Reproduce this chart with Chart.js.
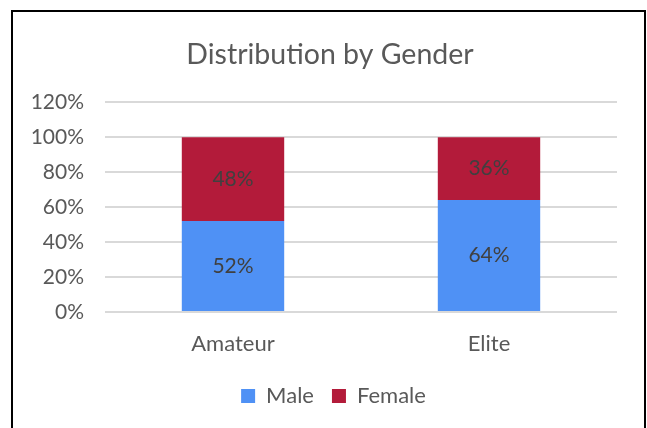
<!DOCTYPE html>
<html>
<head>
<meta charset="utf-8">
<script src="https://cdn.jsdelivr.net/npm/chart.js@4.4.0/dist/chart.umd.min.js"></script>
<style>
  html, body { margin: 0; padding: 0; background: #fff; }
  #wrap { position: relative; width: 647px; height: 428px; overflow: hidden; }
  #frame { position: absolute; left: 11px; top: 10px; width: 635px; height: 440px;
           border: 2px solid #000; box-sizing: border-box; }
  #grafica { position: absolute; left: 0; top: 0; }
</style>
</head>
<body>
<div id="wrap">
  <div id="frame"></div>
  <canvas id="grafica" width="647" height="428"></canvas>
</div>
<script>
var categorias = ["Amateur", "Elite"]
var valoresMale = [0.52, 0.64]
var valoresFemale = [0.48, 0.36]
var colores = ["#4F91F5", "#B31B3A"]
var fuente = "Lato, 'Open Sans', sans-serif"

// etiquetas dentro de las barras
var etiquetasBarras = {
    id: 'etiquetasBarras',
    afterLayout: function (chart) {
        // titulo y leyenda centrados en el marco, no en el canvas
        chart.titleBlock.left = 43
        chart.legend.left = 50
    },
    afterDatasetsDraw: function (chart) {
        var ctx = chart.ctx
        ctx.save()
        ctx.font = "21px " + fuente
        ctx.fillStyle = "#404040"
        ctx.textAlign = "center"
        ctx.textBaseline = "middle"
        chart.data.datasets.forEach(function (ds, i) {
            chart.getDatasetMeta(i).data.forEach(function (bar, j) {
                var medio = (bar.y + bar.base) / 2
                ctx.fillText(Math.round(ds.data[j] * 100) + "%", bar.x, medio)
            })
        })
        ctx.restore()
    }
}

var ctx = document.getElementById('grafica').getContext('2d')

new Chart(ctx, {
    type: 'bar',
    data: {
        labels: categorias,
        datasets: [{
            label: "Male",
            data: valoresMale,
            backgroundColor: colores[0]
        }, {
            label: "Female",
            data: valoresFemale,
            backgroundColor: colores[1]
        }]
    },
    options: {
        responsive: false,
        animation: false,
        layout: { padding: { left: 11, right: 30, top: 0, bottom: 11 } },
        datasets: { bar: { barPercentage: 0.4, categoryPercentage: 1 } },
        scales: {
            x: {
                stacked: true,
                afterFit: function (scale) { scale.height = 55 },
                grid: { display: false },
                border: { display: false },
                ticks: { color: "#595959", font: { family: fuente, size: 22 }, padding: 11 }
            },
            y: {
                stacked: true,
                min: 0,
                max: 1.2,
                afterFit: function (scale) { scale.width = 94 },
                border: { display: false },
                grid: { color: "#d9d9d9", lineWidth: 2, drawTicks: false },
                ticks: {
                    stepSize: 0.2,
                    padding: 21,
                    color: "#595959",
                    font: { family: fuente, size: 21 },
                    callback: function (v) { return Math.round(v * 100) + "%" }
                }
            }
        },
        plugins: {
            title: {
                display: true,
                text: "Distribution by Gender",
                color: "#595959",
                font: { family: fuente, size: 28.5, weight: 'normal' },
                padding: { top: 38, bottom: 30 }
            },
            legend: {
                position: 'bottom',
                labels: {
                    color: "#595959",
                    font: { family: fuente, size: 22 },
                    boxWidth: 14,
                    boxHeight: 14,
                    padding: 18
                }
            },
            tooltip: { enabled: false }
        }
    },
    plugins: [etiquetasBarras]
});
</script>
</body>
</html>
